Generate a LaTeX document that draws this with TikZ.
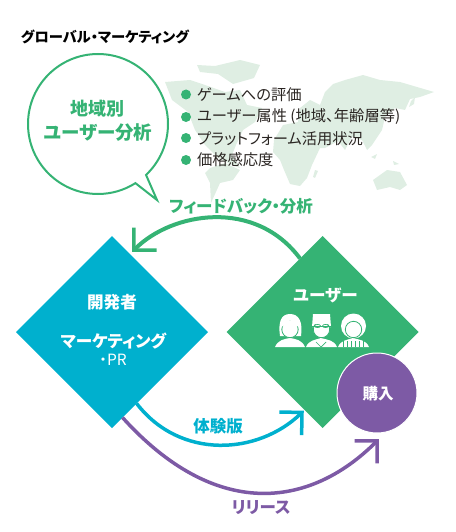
\documentclass[tikz,border=0pt]{standalone}
\usepackage{fontspec}
\setmainfont[RawFeature=+palt]{Noto Sans CJK JP}
\usepackage{tikz}
\usetikzlibrary{arrows.meta, positioning, shapes.geometric, shapes.callouts}

\definecolor{usergreen}{HTML}{35B374}
\definecolor{devblue}{HTML}{00B0CE}
\definecolor{buypurple}{HTML}{7D5AA5}
\definecolor{mapgreen}{HTML}{DFEEE3}
\definecolor{listblack}{HTML}{2A2522}

\begin{document}
\begin{tikzpicture}[
    x=1pt, y=-1pt,
    every node/.style={inner sep=0, outer sep=0},
    diamond_node/.style={diamond, aspect=1, minimum width=192pt, minimum height=192pt},
    white_label/.style={text=white, font=\fontsize{16.6}{17}\selectfont\bfseries},
    list_label/.style={anchor=west, text=listblack, font=\fontsize{15.3}{16}\selectfont},
    bullet_node/.style={circle, fill=usergreen, minimum size=10pt},
    land/.style={fill=mapgreen, draw=none},
    icon/.style={fill=white, draw=none},
    icon_cut/.style={draw=usergreen, line width=0.8pt},
    flow/.style={line width=3.5pt, -{Straight Barb[length=16pt, width=32pt, line width=3.5pt]}}
]
\useasboundingbox (0,0) rectangle (455,532);

% Mapa
\fill[land] (197,65) -- (215,66) -- (240,60) -- (260,65) -- (254,78) -- (233,84) -- (218,74) -- (200,72) -- cycle;
\fill[land] (165,82) -- (190,80) -- (205,85) -- (225,92) -- (240,90) -- (247,105) -- (262,108) -- (255,122) -- (243,130) -- (236,145) -- (232,155) -- (240,168) -- (232,165) -- (218,158) -- (205,145) -- (195,130) -- (188,112) -- (172,100) -- cycle;
\fill[land] (210,168) -- (225,163) -- (240,170) -- (233,180) -- (220,183) -- (211,203) -- (210,183) -- (205,173) -- cycle;
\fill[land] (333,84) -- (345,80) -- (363,75) -- (380,80) -- (400,82) -- (434,92) -- (420,97) -- (410,99) -- (405,110) -- (395,108) -- (385,117) -- (382,130) -- (372,145) -- (367,150) -- (362,140) -- (352,137) -- (345,150) -- (338,141) -- (325,148) -- (320,148) -- (312,165) -- (307,178) -- (300,186) -- (290,184) -- (284,170) -- (280,160) -- (273,152) -- (274,140) -- (283,125) -- (298,122) -- (300,108) -- (310,100) -- (320,105) -- (325,92) -- cycle;
\fill[land] (373,180) -- (387,170) -- (400,172) -- (407,185) -- (400,190) -- (390,187) -- (377,190) -- cycle;
\fill[land] (415,97) -- (414,104) -- (409,107) -- (411,101) -- cycle;
\fill[land] (371,157) -- (377,154) -- (375,159) -- cycle;
\fill[land] (393,161) -- (399,164) -- (394,165) -- cycle;
\fill[land] (315,170) -- (318,171) -- (315,178) -- (313,177) -- cycle;

% Nodos
\node[anchor=west, font=\fontsize{14.3}{15}\selectfont\bfseries] (title) at (21,37) {グローバル・マーケティング};
\node[ellipse callout, draw=usergreen, fill=white, line width=2pt, minimum width=140pt, minimum height=140pt,
      callout absolute pointer={(157,200)}, callout pointer arc=11] (bubble) at (98,124) {};
\node[text=usergreen, font=\fontsize{18}{18}\selectfont\bfseries] (region) at (97,109) {地域別};
\node[text=usergreen, font=\fontsize{18.5}{18}\selectfont\bfseries] (segment) at (98,133) {ユーザー分析};

\node[bullet_node] (dot1) at (186,94.5) {};
\node[bullet_node] (dot2) at (186,117) {};
\node[bullet_node] (dot3) at (186,138) {};
\node[bullet_node] (dot4) at (186,160) {};
\node[list_label] (item1) at (197,94.5) {ゲームへの評価};
\node[list_label] (item2) at (197,117) {ユーザー属性 (地域、年齢層等)};
\node[list_label] (item3) at (197,139) {プラットフォーム活用状況};
\node[list_label] (item4) at (197,160) {価格感応度};

\node[diamond_node, fill=devblue] (dev) at (112,332) {};
\node[diamond_node, fill=usergreen] (user) at (322.5,332) {};
\node[circle, fill=buypurple, draw=white, line width=1pt, minimum size=80pt] (buy) at (377,393) {};

\node[white_label] (devtext) at (112,302) {開発者};
\node[white_label] (marketing) at (113.5,341) {マーケティング};
\node[white_label, font=\fontsize{15.5}{16}\selectfont] (pr) at (113,360) {・PR};
\node[white_label] (usertext) at (325.5,295) {ユーザー};
\node[white_label, font=\fontsize{15.5}{16}\selectfont\bfseries] (buytext) at (378,394) {購入};

\node[text=usergreen, font=\fontsize{16.5}{17}\selectfont\bfseries] (feedback) at (241,206) {フィードバック・分析};
\node[text=devblue, font=\fontsize{16.5}{17}\selectfont\bfseries] (trial) at (218,426) {体験版};
\node[text=buypurple, font=\fontsize{16.5}{17}\selectfont\bfseries] (release) at (261,508) {リリース};

% Flechas
\draw[flow, usergreen, line width=4pt, shorten >=3pt] (user.107) .. controls (255,198) and (172,212) .. (dev.77);
\draw[flow, devblue, shorten >=1pt] (dev.-71) .. controls (180,460) and (258,455) .. (user.-103);
\draw[flow, buypurple, shorten >=10pt] (dev.-83) .. controls (215,520) and (309,509) .. (buy.-77);

% Iconos
\fill[icon] (275,347) .. controls (278,340) and (284,339) .. (290,338) .. controls (296,339) and (302,340) .. (305,347) -- cycle;
\fill[icon] (280,336) .. controls (278,322) and (281,314) .. (290,314) .. controls (299,314) and (303,322) .. (301,336) -- cycle;
\draw[icon, icon_cut] (290,329.5) circle (8.2);
\fill[icon] (281,327) -- (282,321) -- (298,321) -- (299,327) -- (291,323.5) -- (285,325) -- cycle;
\fill[icon] (306,347) .. controls (309,340) and (315,340) .. (321,338) .. controls (328,340) and (334,340) .. (337,347) -- cycle;
\fill[icon] (313,314) -- (330,314) -- (331,327) -- (312,327) -- cycle;
\draw[icon, icon_cut] (321.5,329.5) circle (8.2);
\fill[icon] (313,320) rectangle (330,324);
\draw[usergreen, line width=0.7pt] (312,326) -- (331,326);
\draw[usergreen, line width=0.7pt] (317.5,326) ellipse (3 and 1.6) (325.5,326) ellipse (3 and 1.6);
\draw[usergreen, line width=0.7pt] (316,342) -- (321,347) -- (326,342);
\fill[icon] (338,347) .. controls (341,340) and (347,340) .. (353,338) .. controls (360,340) and (366,340) .. (369,347) -- cycle;
\fill[icon] (353.5,326) circle (12.5);
\draw[icon, icon_cut] (353.5,329.5) circle (8.2);
\foreach \px in {343,347,351,355,359,363}
    \draw[usergreen, line width=0.6pt] (\px,341) -- (\px,347);

\end{tikzpicture}
\end{document}
